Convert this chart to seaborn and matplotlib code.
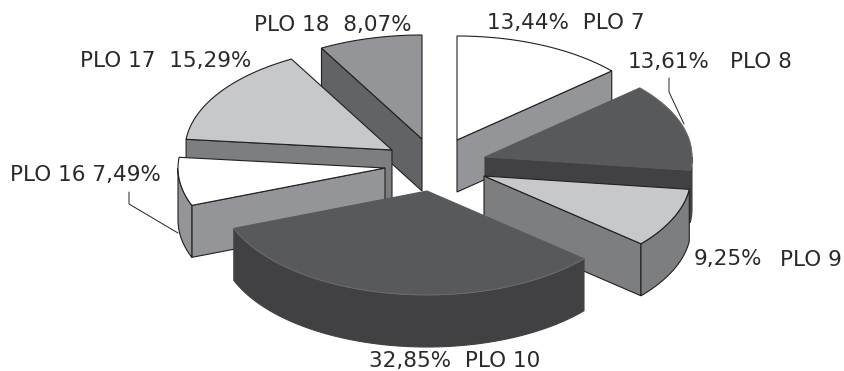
import numpy as np
import matplotlib
matplotlib.use("Agg")
import matplotlib.pyplot as plt
from matplotlib.patches import Polygon
import seaborn as sns

# Share of each PLO, clockwise from twelve o'clock
plo_names = ["PLO 7", "PLO 8", "PLO 9", "PLO 10", "PLO 16", "PLO 17", "PLO 18"]
plo_shares = [13.44, 13.61, 9.25, 32.85, 7.49, 15.29, 8.07]

# Pie geometry on a pixel canvas
RX, RY, DEPTH = 207, 104, 52
apexes = {
    "PLO 7": (457, 140), "PLO 8": (485, 157), "PLO 9": (484, 176),
    "PLO 10": (427, 191), "PLO 16": (385, 168), "PLO 17": (392, 150),
    "PLO 18": (422, 139),
}
top_colors = {
    "PLO 7": "#ffffff", "PLO 8": "#58595b", "PLO 9": "#c7c8ca", "PLO 10": "#58595b",
    "PLO 16": "#ffffff", "PLO 17": "#c7c8ca", "PLO 18": "#939598",
}
side_colors = {
    "PLO 7": "#939598", "PLO 8": "#414042", "PLO 9": "#7d7e80", "PLO 10": "#414042",
    "PLO 16": "#939598", "PLO 17": "#7d7e80", "PLO 18": "#626366",
}
dark_slices = {"PLO 8", "PLO 10"}
draw_order = ["PLO 7", "PLO 18", "PLO 17", "PLO 8", "PLO 9", "PLO 16", "PLO 10"]

# label text pieces: (template, x, y, ha)
label_layout = {
    "PLO 7": [("{pct}  {name}", 487, 23, "left")],
    "PLO 8": [("{pct}", 628, 62, "left"), ("{name}", 730, 62, "left")],
    "PLO 9": [("{pct}", 694, 259, "left"), ("{name}", 780, 260, "left")],
    "PLO 10": [("{pct}  {name}", 369, 361, "left")],
    "PLO 16": [("{name} {pct}", 10, 175, "left")],
    "PLO 17": [("{name}  {pct}", 80, 61, "left")],
    "PLO 18": [("{name}  {pct}", 254, 25, "left")],
}
leader_xs = [[669, 669, 684], [129, 129, 178]]
leader_ys = [[78, 92, 124], [192, 204, 233]]

TEXT = "#2b2829"
LINE = "#231f20"

sns.set_theme(style="white")
plt.rcParams["font.family"] = ["DejaVu Sans"]

fig, ax = plt.subplots(figsize=(8.44, 3.71), dpi=100)
ax.set_position([0, 0, 1, 1])
ax.set_xlim(0, 844)
ax.set_ylim(371, 0)
ax.axis("off")


def rim(apex, angles):
    """Points on the elliptical rim for clockwise angles in degrees from the top."""
    t = np.radians(angles)
    return np.column_stack([apex[0] + RX * np.sin(t), apex[1] - RY * np.cos(t)])


def lowered(points):
    return points + np.array([0, DEPTH])


edges = np.cumsum([0] + plo_shares) * 3.6
spans = {n: (edges[i], edges[i + 1]) for i, n in enumerate(plo_names)}

for name in draw_order:
    a0, a1 = spans[name]
    apex = apexes[name]
    edge = side_colors[name] if name in dark_slices else LINE
    top_edge = "#77787b" if name in dark_slices else LINE
    lw = 0.8
    apex_pt = np.array([apex], dtype=float)

    # radial walls facing the viewer
    for angle, visible in ((a0, np.sin(np.radians(a0)) < 0), (a1, np.sin(np.radians(a1)) > 0)):
        if visible:
            end = rim(apex, np.array([angle]))
            wall = np.vstack([apex_pt, end, lowered(end), lowered(apex_pt)])
            ax.add_patch(Polygon(wall, closed=True, fc=side_colors[name], ec=edge, lw=lw))

    # outer curved wall, only where the rim faces the viewer
    lo, hi = max(a0, 90), min(a1, 270)
    if lo < hi:
        arc = rim(apex, np.linspace(lo, hi, 80))
        wall = np.vstack([arc, lowered(arc)[::-1]])
        ax.add_patch(Polygon(wall, closed=True, fc=side_colors[name], ec=edge, lw=lw))

    # top face
    arc = rim(apex, np.linspace(a0, a1, 120))
    face = np.vstack([apex_pt, arc])
    ax.add_patch(Polygon(face, closed=True, fc=top_colors[name],
                         ec=top_colors[name] if name in dark_slices else top_edge, lw=lw))
    if name in dark_slices:
        ax.plot(arc[:, 0], arc[:, 1], color=top_edge, lw=0.4)

for xs, ys in zip(leader_xs, leader_ys):
    ax.plot(xs, ys, color=LINE, lw=0.7)

for name, share in zip(plo_names, plo_shares):
    pct = f"{share:.2f}%".replace(".", ",")
    for template, x, y, ha in label_layout[name]:
        ax.text(x, y, template.format(pct=pct, name=name), ha=ha, va="center",
                fontsize=15.5, color=TEXT)

fig.savefig("out.png", dpi=100, facecolor="white")
